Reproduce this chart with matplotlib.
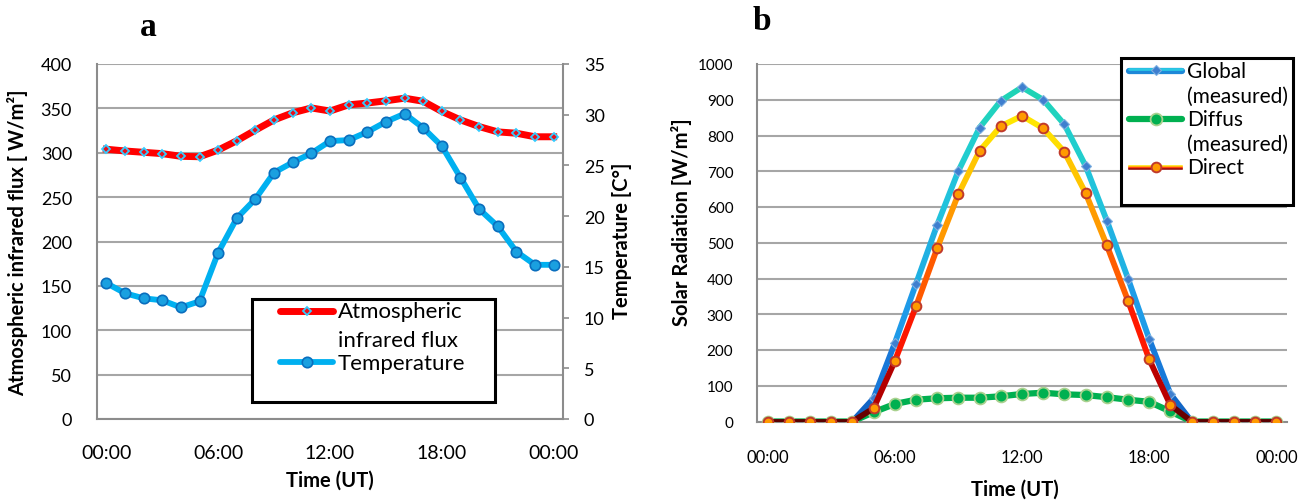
import numpy as np
import matplotlib
matplotlib.use("Agg")
import matplotlib.pyplot as plt
from matplotlib.collections import LineCollection
from matplotlib.colors import LinearSegmentedColormap, Normalize
from matplotlib.lines import Line2D
from matplotlib.patches import Rectangle

plt.rcParams['font.family'] = ['Lato', 'DejaVu Sans']

# data
hours = np.arange(25)
tick_pos = [0, 6, 12, 18, 24]
tick_lab = ['00:00', '06:00', '12:00', '18:00', '00:00']

flux = [304, 302, 300.5, 299, 296, 295.5, 303, 313.5, 325.5, 337, 345, 350.5, 347,
        354, 356, 358.5, 361.5, 358, 346.5, 337, 329.5, 323.5, 322, 318, 318]
temp = [13.4, 12.4, 11.9, 11.7, 11.0, 11.6, 16.4, 19.8, 21.7, 24.3, 25.3, 26.2, 27.4,
        27.5, 28.3, 29.3, 30.1, 28.7, 26.9, 23.8, 20.7, 19.0, 16.5, 15.2, 15.2]

glob = [0, 0, 0, 0, 0, 65, 219, 385, 550, 701, 822, 897, 935, 900, 831, 715, 562,
        400, 231, 77, 0, 0, 0, 0, 0]
diffus = [0, 0, 0, 0, 0, 26, 49, 61, 65, 66.5, 66.5, 70.5, 77, 80.5, 76, 74, 68,
          61, 55, 28, 0, 0, 0, 0, 0]
direct = [0, 0, 0, 0, 0, 37, 169, 322, 485, 636, 757, 826, 855, 820, 754, 639, 493,
          338, 174, 46, 0, 0, 0, 0, 0]

W, H = 1305, 502
fig = plt.figure(figsize=(W / 100, H / 100), dpi=100)


def fx(x):
    return x / W


def fy(y):
    return 1 - y / H


grid_c = '#a6a6a6'
spine_c = '#8c8c8c'

# ---------------- panel a ----------------
ax1 = fig.add_axes([fx(97), fy(420), 466 / W, 355 / H])
ax1.set_xlim(-0.5, 24.5)
ax1.set_ylim(0, 400)
ax1.set_yticks(np.arange(0, 401, 50))
ax1.set_xticks(tick_pos)
ax1.set_xticklabels(tick_lab)
ax1.tick_params(axis='both', length=0)
ax1.tick_params(axis='y', pad=18, labelsize=13)
ax1.tick_params(axis='x', pad=18, labelsize=14)
ax1.grid(axis='y', color=grid_c, lw=1.5)
ax1.set_axisbelow(True)
for s in ['top', 'right']:
    ax1.spines[s].set_visible(False)
for s in ['left', 'bottom']:
    ax1.spines[s].set_color(spine_c)
    ax1.spines[s].set_linewidth(1.5)

ax1.plot(hours, flux, color='#ff0000', lw=5, marker='D', ms=4.5,
         mfc='#e8101c', mec='#33ccff', mew=1.3, solid_joinstyle='round', zorder=3)

ax2 = ax1.twinx()
ax2.set_ylim(0, 35)
ax2.set_yticks(np.arange(0, 36, 5))
ax2.tick_params(axis='y', direction='out', length=4, width=1.2, color=spine_c,
                labelsize=13, pad=11)
for s in ['top', 'left', 'bottom']:
    ax2.spines[s].set_visible(False)
ax2.spines['right'].set_color(spine_c)
ax2.spines['right'].set_linewidth(1.5)
ax2.plot(hours, temp, color='#00b0f0', lw=4.2, marker='o', ms=7.5,
         mfc='#1aa0e0', mec='#0a6ebd', mew=1.2, solid_joinstyle='round', zorder=3)

fig.text(fx(18), fy(243), 'Atmospheric infrared flux [ W/m²]', rotation=90,
         ha='center', va='center', fontsize=14.5, fontweight='bold')
fig.text(fx(622), fy(241), 'Temperature [C°]', rotation=90,
         ha='center', va='center', fontsize=14.5, fontweight='bold')
fig.text(fx(330), fy(481), 'Time (UT)', ha='center', va='center',
         fontsize=14.5, fontweight='bold')
fig.text(fx(148), fy(27), 'a', ha='center', va='center', fontsize=24,
         fontweight='bold', family='Liberation Serif')

# legend a
fig.add_artist(Rectangle((fx(252), fy(403)), (495 - 252) / W, (403 - 300) / H,
                         transform=fig.transFigure, facecolor='white',
                         edgecolor='black', lw=2.2, zorder=5))
fig.add_artist(Line2D([fx(280), fx(333)], [fy(312), fy(312)], color='#ff0000', lw=5,
                      solid_capstyle='round', zorder=6))
fig.add_artist(Line2D([fx(306.5)], [fy(312)], marker='D', ms=4.5, mfc='#e8101c',
                      mec='#33ccff', mew=1.3, zorder=7))
fig.add_artist(Line2D([fx(280), fx(333)], [fy(363), fy(363)], color='#00b0f0', lw=4.2,
                      solid_capstyle='round', zorder=6))
fig.add_artist(Line2D([fx(306.5)], [fy(363)], marker='o', ms=7.5, mfc='#1aa0e0',
                      mec='#0a6ebd', mew=1.2, zorder=7))
for txt, yb in [('Atmospheric', 318), ('infrared flux', 347), ('Temperature', 370)]:
    fig.text(fx(338), fy(yb), txt, ha='left', va='baseline', fontsize=16, zorder=8)

# ---------------- panel b ----------------
ax3 = fig.add_axes([fx(757), fy(422.5), 530 / W, 357.5 / H])
ax3.set_xlim(-0.5, 24.5)
ax3.set_ylim(0, 1000)
ax3.set_yticks(np.arange(0, 1001, 100))
ax3.set_xticks(tick_pos)
ax3.set_xticklabels(tick_lab)
ax3.tick_params(axis='both', length=0)
ax3.tick_params(axis='y', labelsize=11, pad=17)
ax3.tick_params(axis='x', labelsize=12, pad=20)
ax3.grid(axis='y', color=grid_c, lw=1.5)
ax3.set_axisbelow(True)
for s in ['top', 'right']:
    ax3.spines[s].set_visible(False)
for s in ['left', 'bottom']:
    ax3.spines[s].set_color(spine_c)
    ax3.spines[s].set_linewidth(1.5)

glob_cmap = LinearSegmentedColormap.from_list(
    'glob', [(0, '#1060c0'), (0.15, '#1878d8'), (0.32, '#1e9ae8'),
             (0.55, '#20b8e0'), (0.75, '#22cad8'), (0.9, '#20d2c0'), (1, '#1fd4b0')])
dir_cmap = LinearSegmentedColormap.from_list(
    'dir', [(0, '#5a0000'), (0.07, '#8b0000'), (0.17, '#e00000'), (0.3, '#ff1a00'),
            (0.47, '#ff5a00'), (0.64, '#ff9600'), (0.76, '#ffb400'), (0.87, '#ffd800'),
            (1, '#ffe800')])


def gradient_line(ax, y, cmap, vmax, lw, z):
    pts = np.column_stack([hours, y])
    segs = np.stack([pts[:-1], pts[1:]], axis=1)
    mids = (np.array(y[:-1]) + np.array(y[1:])) / 2
    lc = LineCollection(segs, colors=cmap(Normalize(0, vmax)(mids)), linewidths=lw,
                        capstyle='round', joinstyle='round', zorder=z)
    ax.add_collection(lc)


gradient_line(ax3, glob, glob_cmap, 950, 4.2, 2)
ax3.plot(hours, glob, ls='none', marker='D', ms=5, mfc='#3f7fcf', mec='#7fb0e0',
         mew=0.8, zorder=2.5)
ax3.plot(hours, diffus, color='#00b050', lw=4.5, marker='o', ms=8.5, mfc='#00b050',
         mec='#a9d18e', mew=1.3, solid_joinstyle='round', zorder=3)
gradient_line(ax3, direct, dir_cmap, 860, 4.2, 4)
ax3.plot(hours, direct, ls='none', marker='o', ms=7, mfc='#ff9a00', mec='#c0392b',
         mew=1.4, zorder=4.5)

fig.text(fx(682), fy(222), 'Solar Radiation [W/m²]', rotation=90,
         ha='center', va='center', fontsize=14.5, fontweight='bold')
fig.text(fx(1015), fy(490), 'Time (UT)', ha='center', va='center',
         fontsize=14.5, fontweight='bold')
fig.text(fx(762), fy(22), 'b', ha='center', va='center', fontsize=24,
         fontweight='bold', family='Liberation Serif')

# legend b
fig.add_artist(Rectangle((fx(1121), fy(206)), (1293 - 1121) / W, (206 - 59) / H,
                         transform=fig.transFigure, facecolor='white',
                         edgecolor='black', lw=2.2, zorder=5))
# global handle
fig.add_artist(Line2D([fx(1129), fx(1182)], [fy(71.5), fy(71.5)], color='#1e88d8',
                      lw=4.5, solid_capstyle='round', zorder=6))
fig.add_artist(Line2D([fx(1129), fx(1182)], [fy(70), fy(70)], color='#2ac8e4',
                      lw=2, solid_capstyle='round', zorder=6))
fig.add_artist(Line2D([fx(1155.5)], [fy(70.7)], marker='D', ms=5, mfc='#3f7fcf',
                      mec='#7fb0e0', mew=0.8, zorder=7))
# diffus handle
fig.add_artist(Line2D([fx(1129), fx(1182)], [fy(120), fy(120)], color='#00b050',
                      lw=4.5, solid_capstyle='round', zorder=6))
fig.add_artist(Line2D([fx(1155.5)], [fy(120)], marker='o', ms=8.5, mfc='#00b050',
                      mec='#a9d18e', mew=1.3, zorder=7))
# direct handle
for dy, c in [(-1.8, '#ffe000'), (-0.6, '#ffa000'), (0.6, '#ff2000'), (1.8, '#8b0000')]:
    fig.add_artist(Line2D([fx(1129), fx(1182)], [fy(168.3 + dy), fy(168.3 + dy)],
                          color=c, lw=1.1, zorder=6))
fig.add_artist(Line2D([fx(1155.5)], [fy(168.3)], marker='o', ms=7, mfc='#ff9a00',
                      mec='#c0392b', mew=1.4, zorder=7))
for txt, yb in [('Global', 77.5), ('(measured)', 102.5), ('Diffus', 126),
                ('(measured)', 150.5), ('Direct', 174)]:
    fig.text(fx(1187), fy(yb), txt, ha='left', va='baseline', fontsize=15, zorder=8)

fig.savefig('out.png', dpi=100)
